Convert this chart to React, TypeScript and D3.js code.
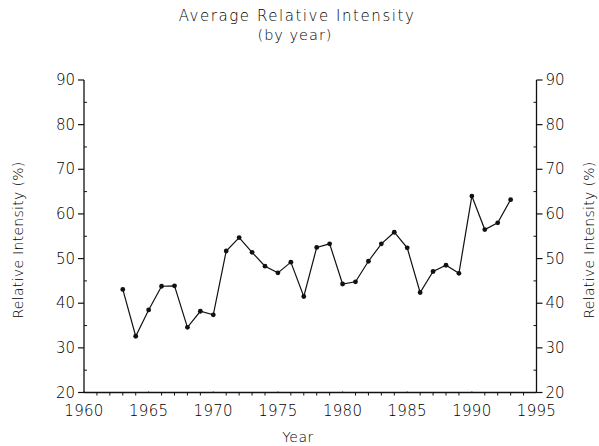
import React from "react";
import * as d3 from "d3";

const years = [1963,1964,1965,1966,1967,1968,1969,1970,1971,1972,1973,1974,1975,1976,1977,1978,1979,1980,1981,1982,1983,1984,1985,1986,1987,1988,1989,1990,1991,1992,1993];
const values = [43.1,32.6,38.5,43.8,43.9,34.6,38.2,37.4,51.7,54.7,51.4,48.3,46.8,49.2,41.5,52.5,53.3,44.3,44.8,49.4,53.3,55.9,52.4,42.4,47.1,48.5,46.7,64.0,56.5,58.0,63.2];
const xTicks = [1960,1965,1970,1975,1980,1985,1990,1995];
const yTicks = [20,30,40,50,60,70,80,90];
const title = "Average Relative Intensity";
const subtitle = "(by year)";
const xLabel = "Year";
const yLabel = "Relative Intensity (%)";

const W = 599, H = 446;
const FONT = "'DejaVu Sans', sans-serif";

export default function App() {
  const x = d3.scaleLinear().domain([1960, 1995]).range([84, 536.5]);
  const y = d3.scaleLinear().domain([20, 90]).range([392.5, 80]);
  const line = d3.line<number>().x((_, i) => x(years[i])).y((v) => y(v));
  const minorX = d3.range(1960, 1996);
  const minorY = d3.range(20, 91, 5).filter((v) => v % 10 !== 0);
  const col = "#111";
  const tcol = "#000";
  const fw = 200;
  return (
    <svg width={W} height={H} style={{ position: "absolute", left: 0, top: 0, background: "#fff" }} fontFamily={FONT} fontWeight={fw}>
      <rect width={W} height={H} fill="#fff" />
      <text x={297} y={21} textAnchor="middle" fontSize={15} letterSpacing={1.55} fill={tcol}>{title}</text>
      <text x={295} y={40} textAnchor="middle" fontSize={14.5} letterSpacing={1} fill={tcol}>{subtitle}</text>
      {/* axes */}
      <line x1={x(1960)} x2={x(1995)} y1={y(20)} y2={y(20)} stroke={col} strokeWidth={1.3} />
      <line x1={x(1960)} x2={x(1960)} y1={y(20)} y2={y(90)} stroke={col} strokeWidth={1.3} />
      <line x1={x(1995)} x2={x(1995)} y1={y(20)} y2={y(90)} stroke={col} strokeWidth={1.3} />
      {minorX.map((t) => (
        <line key={"mx" + t} x1={x(t)} x2={x(t)} y1={y(20)} y2={y(20) - (t % 5 === 0 ? 4 : 0) + 3} stroke={col} strokeWidth={1} />
      ))}
      {minorY.map((t) => (
        <g key={"my" + t}>
          <line x1={x(1960)} x2={x(1960) + 3} y1={y(t)} y2={y(t)} stroke={col} strokeWidth={1} />
          <line x1={x(1995)} x2={x(1995) - 3} y1={y(t)} y2={y(t)} stroke={col} strokeWidth={1} />
        </g>
      ))}
      {yTicks.map((t) => (
        <g key={"y" + t}>
          <line x1={x(1960) - 6} x2={x(1960)} y1={y(t)} y2={y(t)} stroke={col} strokeWidth={1.2} />
          <line x1={x(1995)} x2={x(1995) + 6} y1={y(t)} y2={y(t)} stroke={col} strokeWidth={1.2} />
          <text x={x(1960) - 9} y={y(t) + 5} textAnchor="end" fontSize={15} fill={tcol}>{t}</text>
          <text x={x(1995) + 9} y={y(t) + 5} textAnchor="start" fontSize={15} fill={tcol}>{t}</text>
        </g>
      ))}
      {xTicks.map((t) => (
        <text key={"x" + t} x={x(t)} y={416} textAnchor="middle" fontSize={15} letterSpacing={0.3} fill={tcol}>{t}</text>
      ))}
      <text x={298} y={442} textAnchor="middle" fontSize={14} letterSpacing={0.5} fill={tcol}>{xLabel}</text>
      <text transform={`translate(23,${240}) rotate(-90)`} textAnchor="middle" fontSize={14} letterSpacing={0.3} fill={tcol}>{yLabel}</text>
      <text transform={`translate(594,${240}) rotate(-90)`} textAnchor="middle" fontSize={14} letterSpacing={0.3} fill={tcol}>{yLabel}</text>
      <path d={line(values) || ""} fill="none" stroke={col} strokeWidth={1.2} />
      {values.map((v, i) => (
        <circle key={"p" + i} cx={x(years[i])} cy={y(v)} r={2.4} fill={col} />
      ))}
    </svg>
  );
}
